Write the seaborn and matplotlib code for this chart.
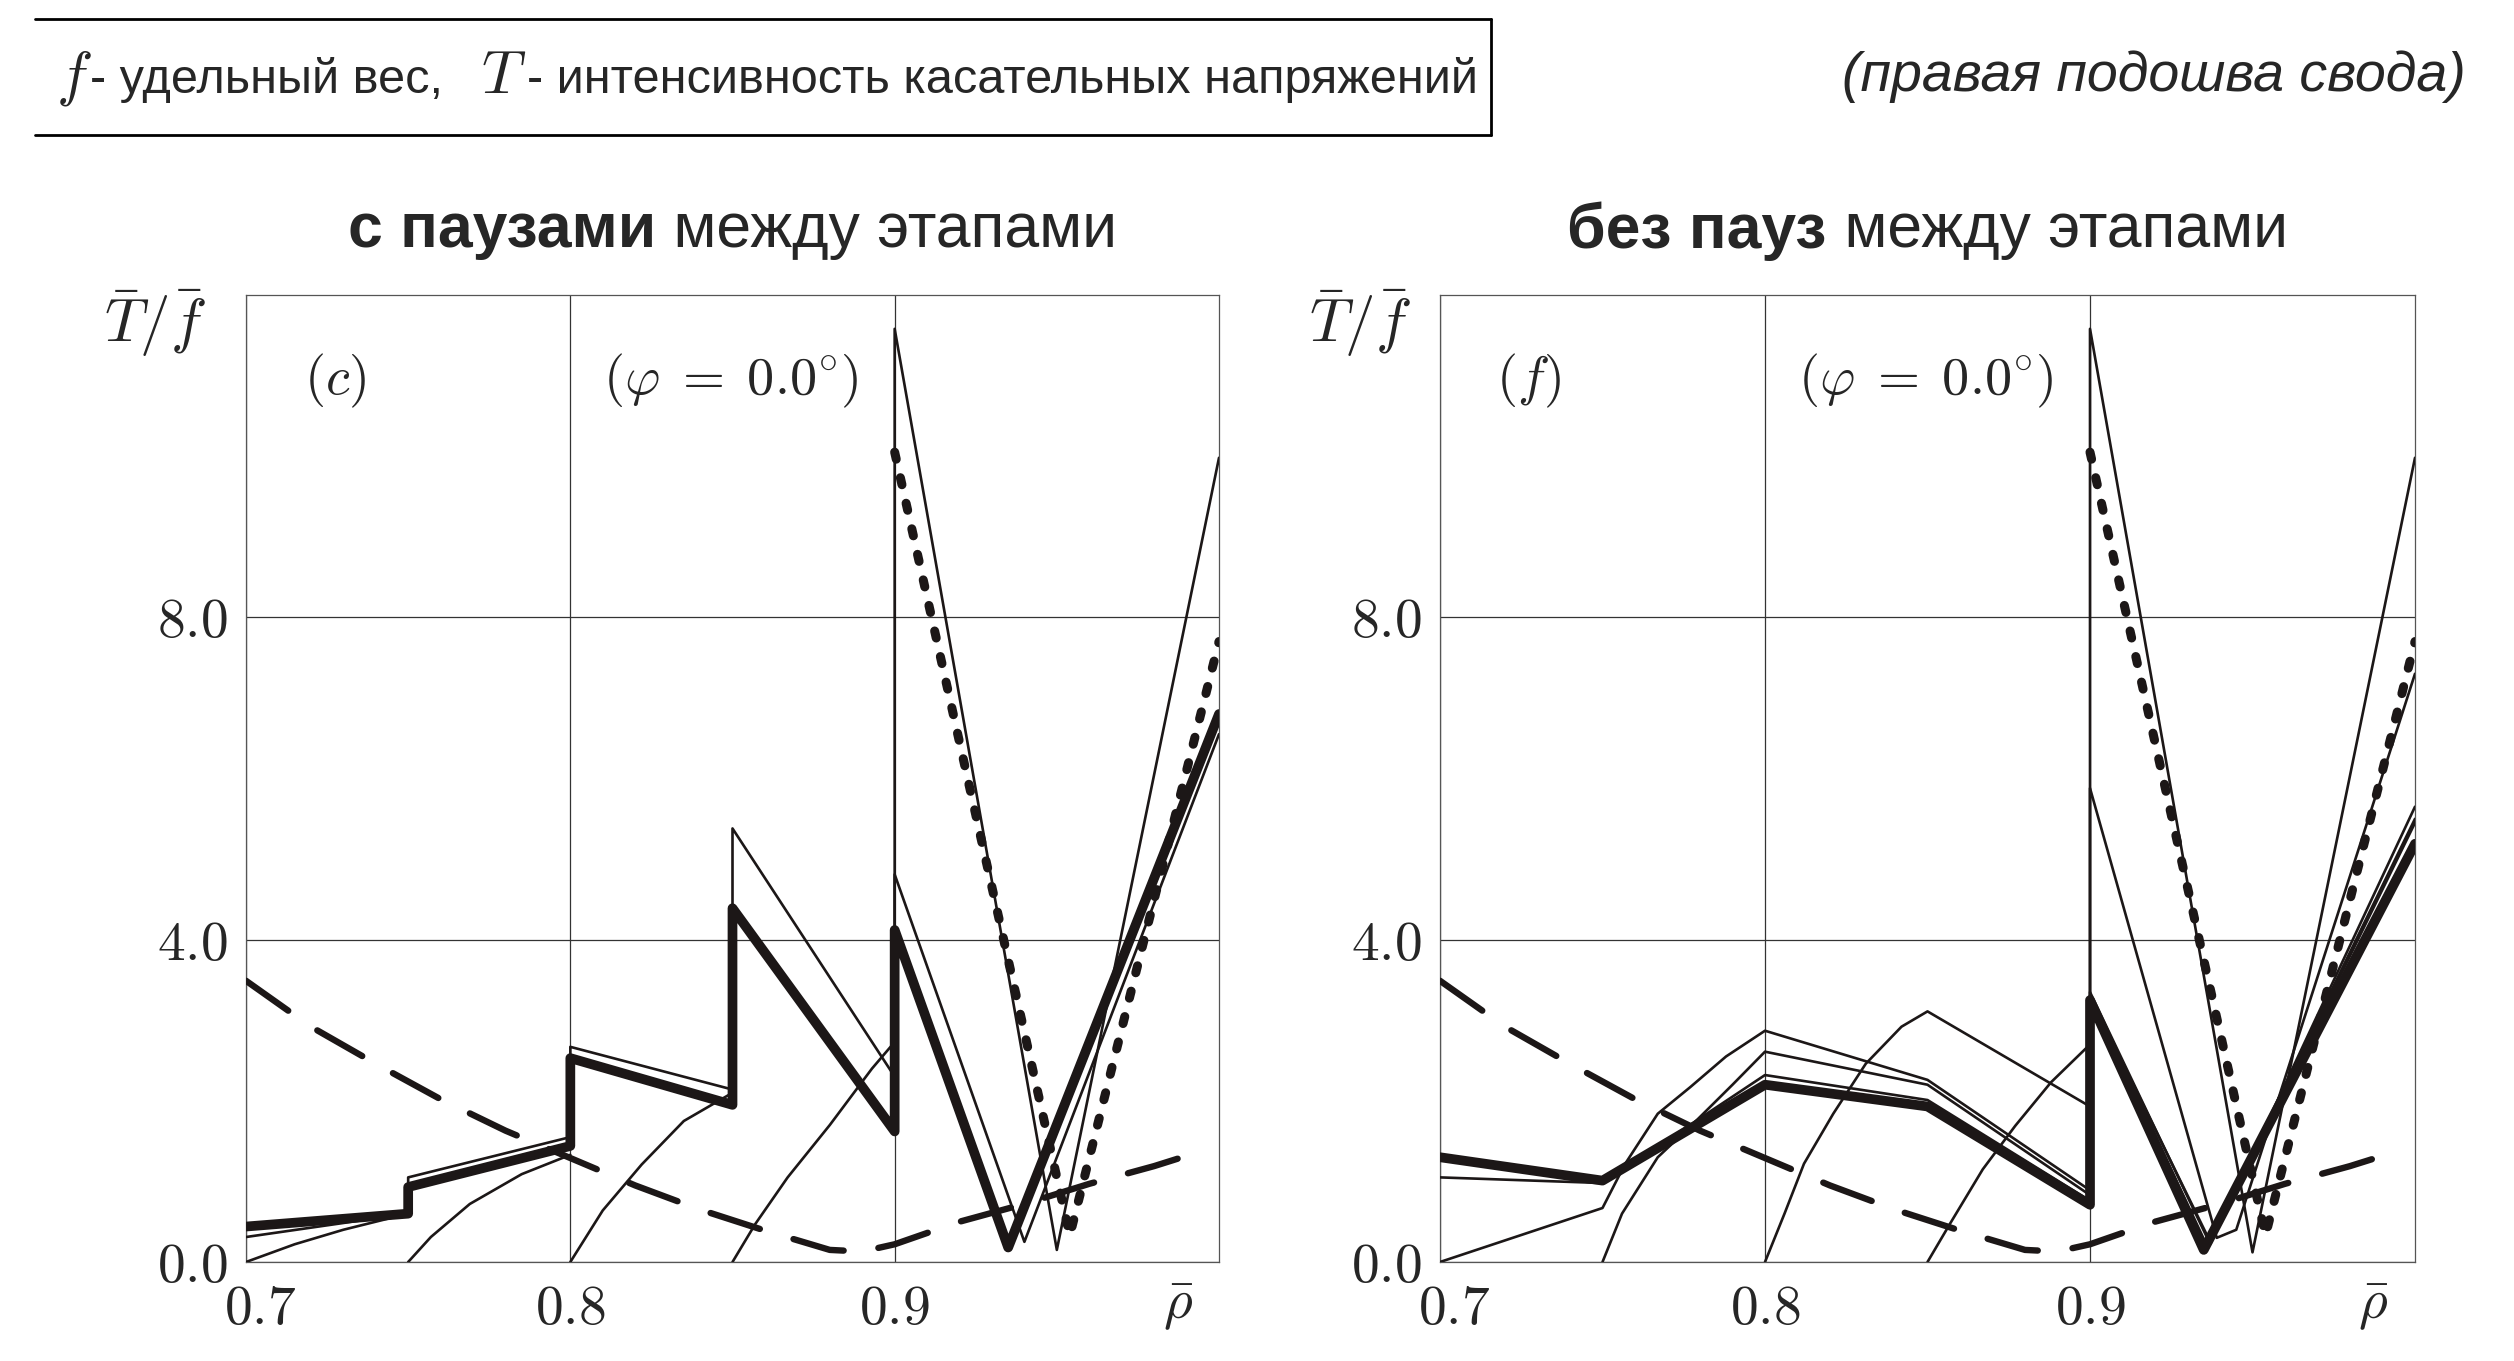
import matplotlib
matplotlib.use("Agg")
import matplotlib.pyplot as plt
import matplotlib.transforms as mtransforms
from matplotlib.lines import Line2D
import seaborn as sns

sns.set_theme(style="white")
plt.rcParams["font.family"] = ["Liberation Sans", "DejaVu Sans"]
plt.rcParams["mathtext.fontset"] = "cm"

INK = "#1c1717"

# curves shared by both panels
rho_dash = [0.70, 0.72, 0.74, 0.76, 0.78, 0.80, 0.82, 0.84, 0.86, 0.88, 0.89,
            0.90, 0.92, 0.94, 0.96, 0.98, 0.995]
t_dash = [3.49, 2.92, 2.46, 2.02, 1.63, 1.29, 0.95, 0.65, 0.39, 0.15, 0.13,
          0.22, 0.50, 0.72, 0.97, 1.19, 1.38]
rho_dot = [0.900, 0.954, 1.000]
t_dot = [10.05, 0.33, 7.70]

# panel (c): with pauses
c_thick_rho = [0.70, 0.75, 0.75, 0.80, 0.80, 0.85, 0.85, 0.90, 0.90, 0.935, 1.00]
c_thick_t = [0.44, 0.60, 0.93, 1.44, 2.53, 1.95, 4.39, 1.62, 4.12, 0.18, 6.80]
c_thin1_rho = [0.70, 0.75, 0.75, 0.80, 0.80, 0.85, 0.85, 0.90, 0.90, 0.95, 1.00]
c_thin1_t = [0.31, 0.60, 1.05, 1.55, 2.67, 2.14, 5.38, 2.30, 11.58, 0.15, 9.98]
c_thin2_rho = [0.70, 0.715, 0.73, 0.75]
c_thin2_t = [0.00, 0.22, 0.40, 0.60]
c_arc1_rho = [0.75, 0.757, 0.769, 0.785, 0.80]
c_arc1_t = [0.00, 0.31, 0.72, 1.09, 1.33]
c_arc2_rho = [0.80, 0.81, 0.822, 0.835, 0.85]
c_arc2_t = [0.00, 0.64, 1.21, 1.75, 2.10]
c_arc3_rho = [0.85, 0.857, 0.867, 0.88, 0.893, 0.90, 0.90, 0.94, 1.00]
c_arc3_t = [0.00, 0.47, 1.05, 1.70, 2.40, 2.73, 4.81, 0.25, 6.55]

# panel (f): without pauses
f_thick_rho = [0.70, 0.75, 0.80, 0.85, 0.90, 0.90, 0.935, 1.00]
f_thick_t = [1.30, 1.01, 2.20, 1.93, 0.71, 3.25, 0.15, 5.19]
f_thinA_rho = [0.70, 0.75, 0.80, 0.85, 0.90, 0.90, 0.936, 1.00]
f_thinA_t = [1.05, 0.98, 2.32, 2.01, 0.76, 3.30, 0.20, 5.50]
f_thinB_rho = [0.70, 0.75, 0.757, 0.767, 0.777, 0.788, 0.80, 0.85, 0.90, 0.90, 0.937, 1.00]
f_thinB_t = [0.00, 0.67, 1.22, 1.84, 2.17, 2.55, 2.87, 2.26, 0.89, 3.35, 0.22, 5.65]
f_arc1_rho = [0.75, 0.756, 0.767, 0.777, 0.79, 0.80, 0.85, 0.90, 0.90, 0.937, 1.00]
f_arc1_t = [0.00, 0.60, 1.30, 1.68, 2.20, 2.61, 2.20, 0.83, 3.30, 0.25, 5.45]
f_arc2_rho = [0.80, 0.806, 0.812, 0.821, 0.831, 0.842, 0.85, 0.90, 0.90, 0.95, 1.00]
f_arc2_t = [0.00, 0.60, 1.22, 1.84, 2.46, 2.92, 3.11, 1.93, 11.58, 0.12, 9.98]
f_arc3_rho = [0.85, 0.857, 0.867, 0.877, 0.888, 0.90, 0.90, 0.939, 0.945, 1.00]
f_arc3_t = [0.00, 0.48, 1.15, 1.69, 2.23, 2.70, 5.88, 0.30, 0.40, 7.30]

x_ticks = [0.7, 0.8, 0.9]
x_labels = [r"$0.7$", r"$0.8$", r"$0.9$"]
y_ticks = [0, 4, 8]
y_labels = [r"$0.0$", r"$4.0$", r"$8.0$"]

STYLES = {
    "thin": dict(lw=1.9, ls="-", z=3),
    "thick": dict(lw=7.0, ls="-", z=4),
    "dash": dict(lw=4.6, ls=(0, (8.1, 5.5)), z=5),
    "dot": dict(lw=6.5, ls=(0, (0.8, 2.1)), z=6),
}


def draw(ax, x, y, kind):
    st = STYLES[kind]
    sns.lineplot(x=x, y=y, sort=False, estimator=None, ax=ax, color=INK)
    line = ax.lines[-1]
    line.set_linewidth(st["lw"])
    line.set_linestyle(st["ls"])
    line.set_dash_capstyle("round")
    line.set_zorder(st["z"])


W, H = 2514, 1361
fig = plt.figure(figsize=(W / 100, H / 100), dpi=100)
ax_c = fig.add_axes([246 / W, 1 - 1262 / H, 973 / W, 967 / H])
ax_f = fig.add_axes([1440 / W, 1 - 1262 / H, 975 / W, 967 / H])

panels = [
    (ax_c, [(c_thin2_rho, c_thin2_t), (c_arc1_rho, c_arc1_t), (c_arc2_rho, c_arc2_t),
            (c_arc3_rho, c_arc3_t), (c_thin1_rho, c_thin1_t)],
     (c_thick_rho, c_thick_t), r"$(c)$"),
    (ax_f, [(f_thinA_rho, f_thinA_t), (f_thinB_rho, f_thinB_t), (f_arc1_rho, f_arc1_t),
            (f_arc2_rho, f_arc2_t), (f_arc3_rho, f_arc3_t)],
     (f_thick_rho, f_thick_t), r"$(f)$"),
]

for ax, thins, thick, tag in panels:
    for x, y in thins:
        draw(ax, x, y, "thin")
    draw(ax, thick[0], thick[1], "thick")
    draw(ax, rho_dash, t_dash, "dash")
    draw(ax, rho_dot, t_dot, "dot")

    ax.set_xlim(0.7, 1.0)
    ax.set_ylim(0, 12)
    ax.set_xticks(x_ticks)
    ax.set_xticklabels(x_labels, fontsize=40)
    ax.set_yticks(y_ticks)
    ax.set_yticklabels(y_labels, fontsize=40)
    ax.tick_params(length=0)
    ax.tick_params(axis="x", pad=16)
    ax.tick_params(axis="y", pad=13)
    ax.set_xlabel("")
    ax.set_ylabel("")
    ax.grid(True, color="#333333", lw=0.9)
    for sp in ax.spines.values():
        sp.set_color("#555555")
        sp.set_linewidth(0.9)
    first = ax.get_xticklabels()[0]
    first.set_transform(first.get_transform()
                        + mtransforms.ScaledTranslation(0.14, 0, fig.dpi_scale_trans))

    ax.text(0.7274, 10.93, tag, fontsize=39, ha="center", va="center")
    ax.text(0.8495, 10.93, r"$(\varphi\;=\;0.0^{\circ})$", fontsize=39,
            ha="center", va="center")

# corner axis labels
for x0 in (155, 1360):
    fig.text(x0 / W, 1 - 323 / H, r"$\bar{T}/\bar{f}$", fontsize=44,
             ha="center", va="center")
for x0 in (1178, 2373):
    fig.text(x0 / W, 1 - 1307 / H, r"$\bar{\rho}$", fontsize=40,
             ha="center", va="center")

fig.canvas.draw()
renderer = fig.canvas.get_renderer()

# titles: bold part + regular part, centred over each panel
for ax, bold, rest in [(ax_c, "с паузами", " между этапами"),
                       (ax_f, "без пауз", " между этапами")]:
    t1 = fig.text(0, 1 - 231 / H, bold, fontsize=45, fontweight="bold", va="center")
    t2 = fig.text(0, 1 - 231 / H, rest, fontsize=45, va="center")
    w1 = t1.get_window_extent(renderer).width
    w2 = t2.get_window_extent(renderer).width
    bb = ax.get_position()
    cx = (bb.x0 + bb.x1) / 2 * W
    start = cx - (w1 + w2) / 2
    t1.set_x(start / W)
    t2.set_x((start + w1) / W)

# legend box (top, bottom and right edges only)
for xs, ys in [((35, 1491), (19, 19)), ((35, 1491), (135, 135)), ((1491, 1491), (19, 135))]:
    fig.add_artist(Line2D([x / W for x in xs], [1 - y / H for y in ys],
                          color="black", lw=2.0))

# legend text pieces at their own positions
for s, x0, size in [(r"$f$", 56, 44), ("- удельный вес,", 90, 35),
                    (r"$T$", 481, 44), ("- интенсивность касательных напряжений", 527, 35)]:
    fig.text(x0 / W, 1 - 93 / H, s, fontsize=size, ha="left", va="baseline")

fig.text(2466 / W, 1 - 77 / H, "(правая подошва свода)", fontsize=40,
         style="italic", ha="right", va="center")

fig.savefig("out.png", dpi=100, facecolor="white")
